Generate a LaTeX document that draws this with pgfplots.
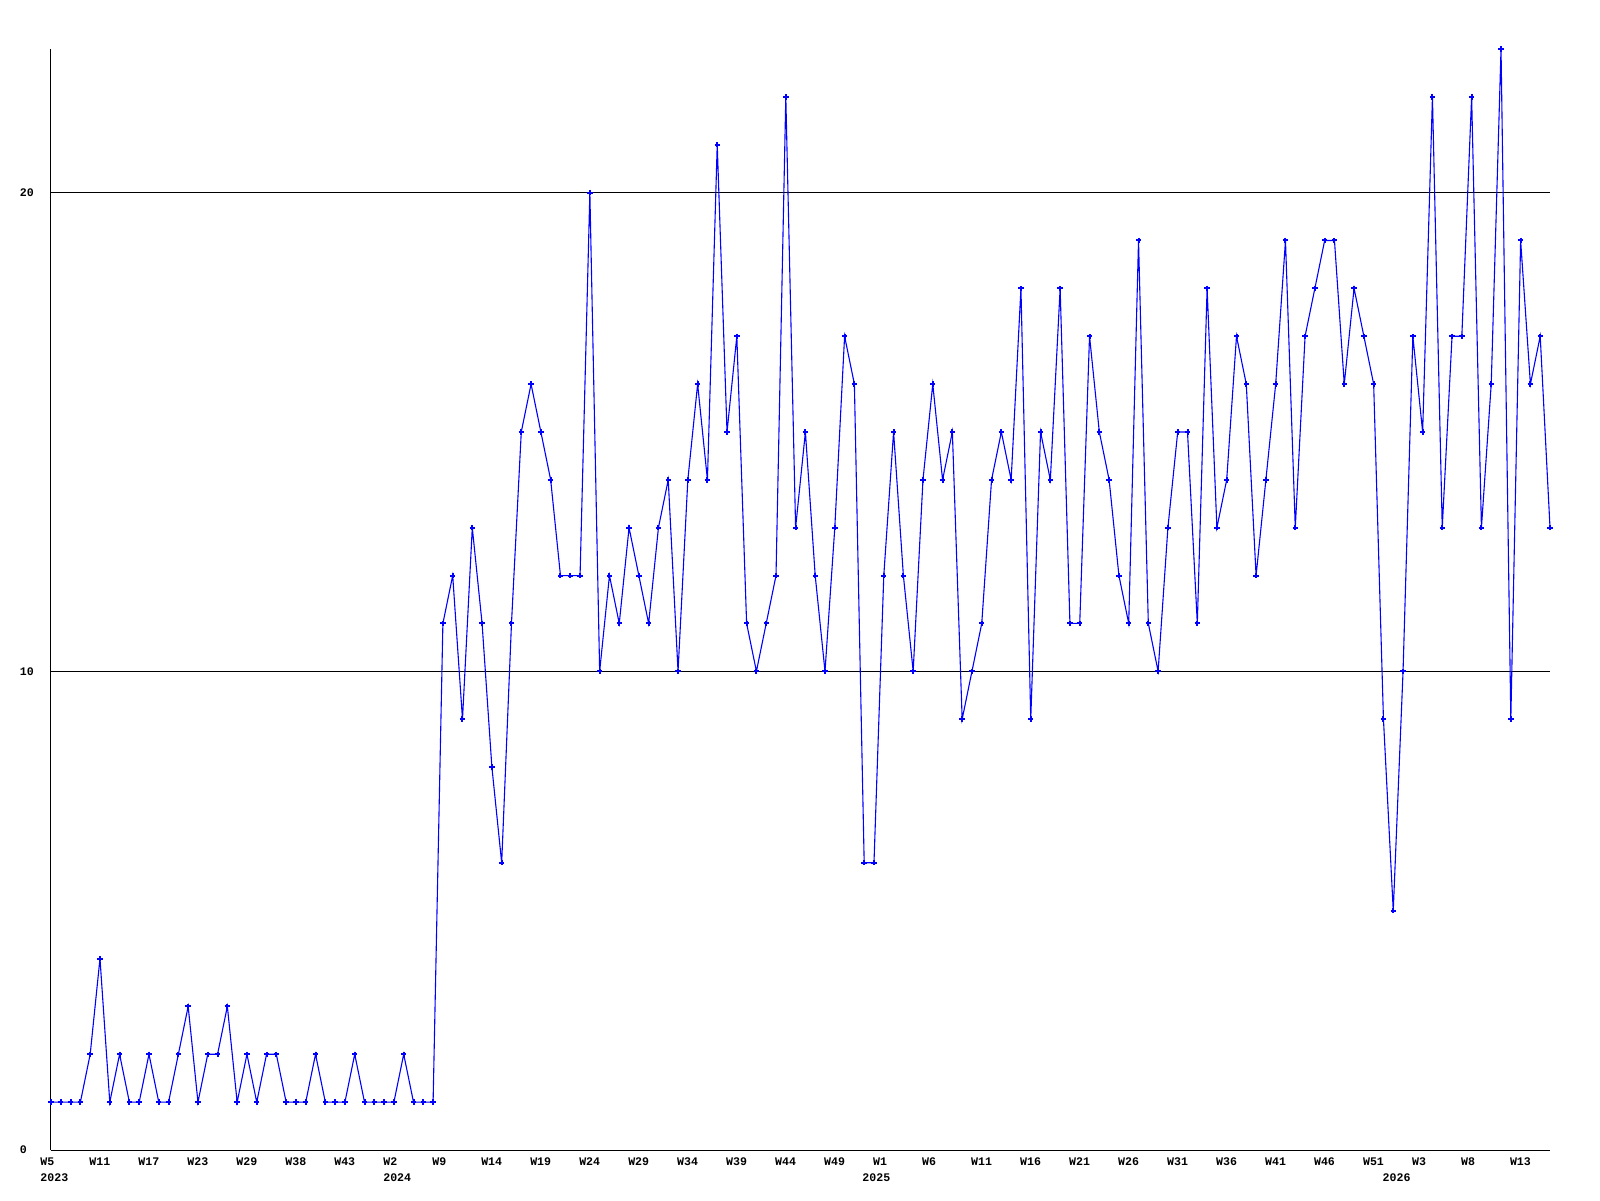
\documentclass[border=0pt]{standalone}
\usepackage{fontspec}
\setmainfont{Liberation Mono}
\usepackage{pgfplots}
\pgfplotsset{compat=1.18}
\begin{document}
\begin{tikzpicture}
\begin{axis}[
  anchor=south west, at={(0pt,0pt)},
  scale only axis,
  width=749.5pt, height=550.5pt,
  xmin=0, xmax=153, ymin=0, ymax=23,
  clip=false,
  axis lines*=left,
  axis line style={-, black, line width=0.5pt},
  ytick={0,10,20},
  ymajorgrids, grid style={black, line width=0.5pt},
  xtick={0,5,...,150},
  xticklabels={W5,W11,W17,W23,W29,W38,W43,W2,W9,W14,W19,W24,W29,W34,W39,W44,W49,W1,W6,W11,W16,W21,W26,W31,W36,W41,W46,W51,W3,W8,W13},
  major tick length=0pt,
  /pgf/number format/assume math mode=true,
  tick label style={font=\fontsize{5.8}{7}\selectfont\bfseries, inner sep=0pt},
  xticklabel style={anchor=north west, xshift=-5.5pt, yshift=-3.5pt},
  yticklabel style={anchor=west, xshift=-15.8pt},
]
\addplot[color={rgb,255:red,0;green,0;blue,255}, line width=0.55pt, mark=+, mark size=1.35pt, mark options={line width=1pt}] table[x=i, y=v] {
i v
0 1
1 1
2 1
3 1
4 2
5 4
6 1
7 2
8 1
9 1
10 2
11 1
12 1
13 2
14 3
15 1
16 2
17 2
18 3
19 1
20 2
21 1
22 2
23 2
24 1
25 1
26 1
27 2
28 1
29 1
30 1
31 2
32 1
33 1
34 1
35 1
36 2
37 1
38 1
39 1
40 11
41 12
42 9
43 13
44 11
45 8
46 6
47 11
48 15
49 16
50 15
51 14
52 12
53 12
54 12
55 20
56 10
57 12
58 11
59 13
60 12
61 11
62 13
63 14
64 10
65 14
66 16
67 14
68 21
69 15
70 17
71 11
72 10
73 11
74 12
75 22
76 13
77 15
78 12
79 10
80 13
81 17
82 16
83 6
84 6
85 12
86 15
87 12
88 10
89 14
90 16
91 14
92 15
93 9
94 10
95 11
96 14
97 15
98 14
99 18
100 9
101 15
102 14
103 18
104 11
105 11
106 17
107 15
108 14
109 12
110 11
111 19
112 11
113 10
114 13
115 15
116 15
117 11
118 18
119 13
120 14
121 17
122 16
123 12
124 14
125 16
126 19
127 13
128 17
129 18
130 19
131 19
132 16
133 18
134 17
135 16
136 9
137 5
138 10
139 17
140 15
141 22
142 13
143 17
144 17
145 22
146 13
147 16
148 23
149 9
150 19
151 16
152 17
153 13
};
\begin{scope}[every node/.style={font=\fontsize{5.8}{7}\selectfont\bfseries, inner sep=0pt, anchor=north west, xshift=-5.5pt, yshift=-11.5pt}]
\node at (axis cs:0,0) {2023};
\node at (axis cs:35,0) {2024};
\node at (axis cs:83.9,0) {2025};
\node at (axis cs:137,0) {2026};
\end{scope}
\end{axis}
\pgfresetboundingbox
\path[use as bounding box] (-25.5pt,-25pt) rectangle (774.5pt,575pt);
\end{tikzpicture}
\end{document}
